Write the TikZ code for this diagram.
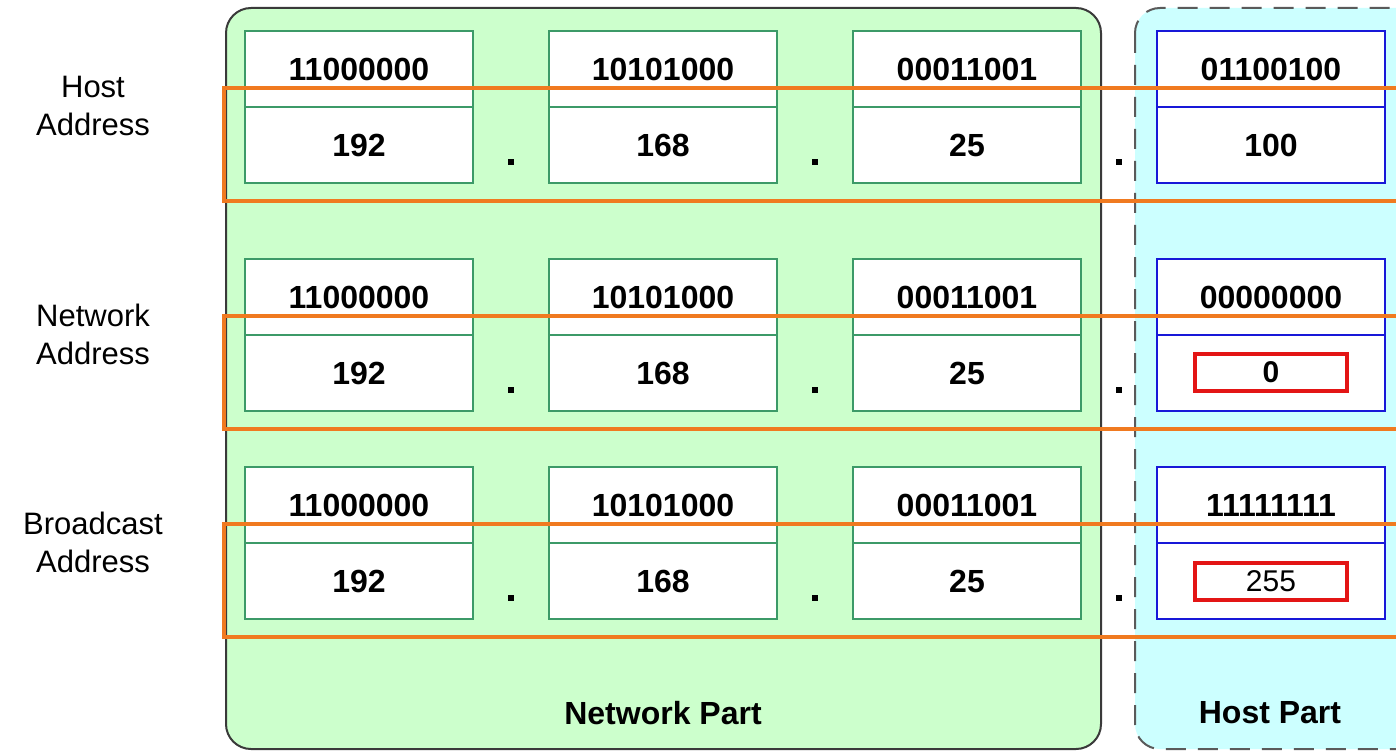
\documentclass[tikz,border=0pt]{standalone}
\usepackage{fontspec}
\setmainfont{Liberation Sans}
\definecolor{pgreen}{HTML}{CCFFCC}
\definecolor{pcyan}{HTML}{CCFFFF}
\definecolor{gborder}{HTML}{3A3A3A}
\definecolor{cgreen}{HTML}{3C9A68}
\definecolor{cblue}{HTML}{1818D8}
\definecolor{orng}{HTML}{F07A20}
\definecolor{redb}{HTML}{E31515}
\definecolor{dashgray}{HTML}{5A5A5A}
\begin{document}
\begin{tikzpicture}[x=1pt,y=-1pt,
  cellg/.style={draw=cgreen, line width=2pt, fill=white, minimum width=228pt, minimum height=76pt, inner sep=0pt, font=\bfseries\fontsize{32}{38}\selectfont},
  cellb/.style={cellg, draw=cblue},
  dotsq/.style={fill=black, minimum size=6pt, inner sep=0pt},
  redbox/.style={draw=redb, line width=4pt, minimum width=152pt, minimum height=37pt, inner sep=0pt, fill=white},
  lbl/.style={align=center, font=\fontsize{31}{38}\selectfont},
  part/.style={font=\bfseries\fontsize{32}{38}\selectfont},
  hl/.style={draw=orng, line width=4pt}]
\useasboundingbox (0,0) rectangle (1396,751);
\clip (0,0) rectangle (1396,751);
\fill[white] (0,0) rectangle (1396,751);
% panels
\draw[fill=pgreen, draw=gborder, line width=2pt, rounded corners=25pt] (226,8) rectangle (1101,749);
\draw[fill=pcyan, draw=dashgray, line width=2pt, dash pattern=on 20pt off 12pt, rounded corners=25pt] (1135,8) rectangle (1430,749);
\node[part] (np) at (663,713) {Network Part};
\node[part] (hp) at (1270,713) {Host Part};
% rows
\foreach \r/\T/\lab/\hb/\hd in {1/31/{Host\\Address}/01100100/100, 2/259/{Network\\Address}/00000000/, 3/467/{Broadcast\\Address}/11111111/} {
  \node[lbl] (lab\r) at (93,\T+75) {\lab};
  \node[cellg] (t\r a) at (359,\T+38) {11000000};
  \node[cellg] (b\r a) at (359,\T+114) {192};
  \node[cellg] (t\r b) at (663,\T+38) {10101000};
  \node[cellg] (b\r b) at (663,\T+114) {168};
  \node[cellg] (t\r c) at (967,\T+38) {00011001};
  \node[cellg] (b\r c) at (967,\T+114) {25};
  \node[cellb] (t\r d) at (1271,\T+38) {\hb};
  \node[cellb] (b\r d) at (1271,\T+114) {\hd};
  \node[dotsq] (d\r a) at (511,\T+131) {};
  \node[dotsq] (d\r b) at (815,\T+131) {};
  \node[dotsq] (d\r c) at (1119,\T+131) {};
  \draw[hl] (224,\T+57) rectangle (1430,\T+170);
}
\node[redbox, font=\bfseries\fontsize{30}{36}\selectfont] (r0) at (1271,372) {0};
\node[redbox, font=\fontsize{30}{36}\selectfont] (r255) at (1271,581) {255};
\end{tikzpicture}
\end{document}
